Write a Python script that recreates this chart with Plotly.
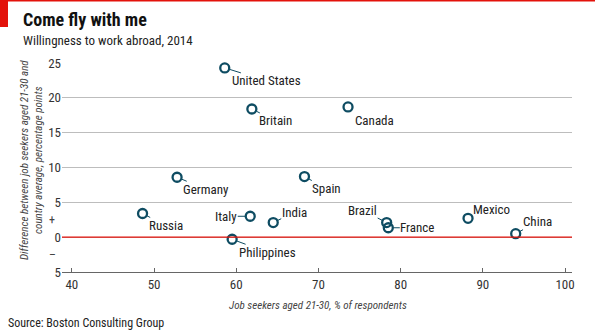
import plotly.graph_objects as go

countries = ["United States", "Britain", "Canada", "Germany", "Spain", "Russia",
             "Italy", "India", "Philippines", "Brazil", "France", "Mexico", "China"]
job_seekers = [58.6, 61.9, 73.6, 52.8, 68.3, 48.6, 61.7, 64.5, 59.5, 78.3, 78.5, 88.2, 94.0]
difference = [24.3, 18.4, 18.7, 8.6, 8.7, 3.4, 3.0, 2.1, -0.3, 2.1, 1.35, 2.7, 0.5]
# label offsets (pixels) of each label from its point
label_dx = [42, 24, 26, 29, 22, 23, -24, 21, 35, -24, 29, 23, 22]
label_dy = [13, 12, 14, 12, 12, 12, 0, -10, 13, -12, 0, -9, -12]

y_tickvals = [-5, 0, 5, 10, 15, 20, 25]
y_ticktext = ["5", "0", "5", "10", "15", "20", "25"]
x_tickvals = [40, 50, 60, 70, 80, 90, 100]

FONT = "Liberation Sans Narrow, Roboto Condensed, Roboto, sans-serif"
TEAL = "#0e4c62"
RED = "#e3120b"

L, R, T, B = 62, 23, 63, 63
W, H = 595, 335
pw, ph = W - L - R, H - T - B

def px(x):
    return (x - L) / pw

def py(y):
    return (H - B - y) / ph

fig = go.Figure()
fig.add_trace(go.Scatter(
    x=job_seekers, y=difference, mode="markers",
    marker=dict(symbol="circle-open", size=9, color=TEAL, line=dict(width=2.3, color=TEAL)),
    cliponaxis=False, hoverinfo="skip", showlegend=False,
))

annotations = []
for c, x, y, dx, dy in zip(countries, job_seekers, difference, label_dx, label_dy):
    annotations.append(dict(
        x=x, y=y, xref="x", yref="y", text=c, showarrow=True,
        ax=dx, ay=dy, arrowhead=0, arrowwidth=1, arrowcolor=TEAL, standoff=5,
        font=dict(family=FONT, size=13, color="#222222"), borderpad=0,
    ))

# +/- signs on y axis
annotations.append(dict(x=px(52), y=2.5, xref="paper", yref="y", text="+", showarrow=False,
                        xanchor="center", font=dict(family=FONT, size=12, color="#444")))
annotations.append(dict(x=px(52), y=-2.5, xref="paper", yref="y", text="–", showarrow=False,
                        xanchor="center", font=dict(family=FONT, size=12, color="#444")))
# y axis title
annotations.append(dict(x=px(31), y=py(160), xref="paper", yref="paper",
                        text="<i>Difference between job seekers aged 21-30 and<br>country average, percentage points</i>",
                        showarrow=False, textangle=-90, xanchor="center", yanchor="middle",
                        font=dict(family=FONT, size=11, color="#444")))
# x axis title
annotations.append(dict(x=px(318), y=py(305), xref="paper", yref="paper",
                        text="<i>Job seekers aged 21-30, % of respondents</i>",
                        showarrow=False, xanchor="center", yanchor="middle",
                        font=dict(family=FONT, size=11, color="#444")))
# title, subtitle, source
annotations.append(dict(x=px(21), y=py(20), xref="paper", yref="paper", text="<b>Come fly with me</b>",
                        showarrow=False, xanchor="left", yanchor="middle",
                        font=dict(family=FONT, size=18, color="#111")))
annotations.append(dict(x=px(21), y=py(41), xref="paper", yref="paper", text="Willingness to work abroad, 2014",
                        showarrow=False, xanchor="left", yanchor="middle",
                        font=dict(family=FONT, size=13, color="#222")))
annotations.append(dict(x=px(6), y=py(323), xref="paper", yref="paper", text="Source: Boston Consulting Group",
                        showarrow=False, xanchor="left", yanchor="middle",
                        font=dict(family=FONT, size=12, color="#222")))

shapes = [
    dict(type="rect", xref="paper", yref="paper", x0=px(0), x1=px(8), y0=py(27), y1=py(0),
         fillcolor=RED, line=dict(width=0)),
    dict(type="rect", xref="paper", yref="paper", x0=px(0), x1=px(W), y0=py(1.5), y1=py(0),
         fillcolor=RED, line=dict(width=0)),
    dict(type="line", xref="paper", yref="y", x0=0, x1=1, y0=0, y1=0,
         line=dict(color=RED, width=1.3)),
]

fig.update_layout(
    width=W, height=H, margin=dict(l=L, r=R, t=T, b=B),
    paper_bgcolor="white", plot_bgcolor="white",
    annotations=annotations, shapes=shapes,
    xaxis=dict(range=[38.8, 100.85], tickvals=x_tickvals, showgrid=False, zeroline=False,
               showline=True, linecolor="#666", linewidth=1, ticks="inside", ticklen=4,
               tickcolor="#666", tickfont=dict(family=FONT, size=13, color="#333")),
    yaxis=dict(range=[-5, 25], tickvals=y_tickvals, ticktext=y_ticktext, showgrid=True,
               gridcolor="#bdbdbd", gridwidth=1, zeroline=False, ticks="", showline=False,
               tickfont=dict(family=FONT, size=13, color="#333")),
)

fig.write_html("out.html")
